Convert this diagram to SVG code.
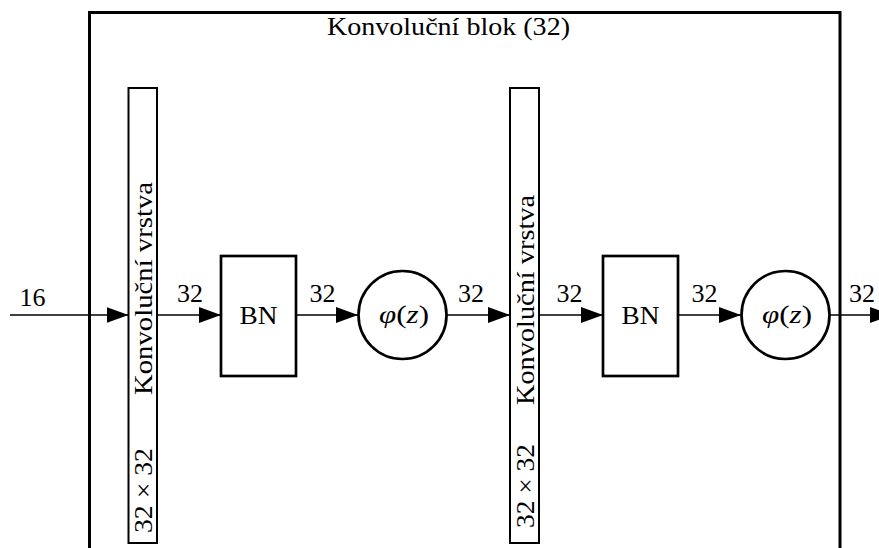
<svg xmlns="http://www.w3.org/2000/svg" width="879" height="548" viewBox="0 0 879 548">
  <style>
    text { font-family: "Liberation Serif", "DejaVu Serif", serif; font-size: 26px; fill: #000; }
    .frame { fill: none; stroke: #000; stroke-width: 3; }
    .box { fill: #fff; stroke: #000; stroke-width: 2.7; }
    .conv { fill: #fff; stroke: #000; stroke-width: 2; }
    .edge { fill: none; stroke: #000; stroke-width: 1.5; marker-end: url(#head); }
    .lbl { text-anchor: middle; }
    .it { font-style: italic; }
  </style>
  <defs>
    <marker id="head" viewBox="0 0 22 16" refX="22" refY="8" markerWidth="22" markerHeight="16" markerUnits="userSpaceOnUse" orient="auto">
      <path d="M0,0 L22,8 L0,16 Z" fill="#000"/>
    </marker>
  </defs>

  <rect x="0" y="0" width="879" height="548" fill="#fff"/>

  <!-- outer block frame -->
  <g id="block">
    <rect class="frame" x="89.5" y="12.5" width="750.5" height="560"/>
    <text class="lbl" x="448.5" y="35" textLength="243" lengthAdjust="spacingAndGlyphs">Konvoluční blok (32)</text>
  </g>

  <!-- connectors -->
  <g id="connectors">
    <path class="edge" d="M10,315 H128.5"/>
    <path class="edge" d="M157,315 H221"/>
    <path class="edge" d="M296,315 H358"/>
    <path class="edge" d="M447,315 H510"/>
    <path class="edge" d="M539,315 H603"/>
    <path class="edge" d="M678,315 H741"/>
    <path class="edge" d="M830,315 H892"/>
    <text class="lbl" x="32.5" y="306">16</text>
    <text class="lbl" x="190" y="302">32</text>
    <text class="lbl" x="322.5" y="302">32</text>
    <text class="lbl" x="471" y="302">32</text>
    <text class="lbl" x="569.5" y="302">32</text>
    <text class="lbl" x="704.5" y="302">32</text>
    <text class="lbl" x="862" y="302">32</text>
  </g>

  <!-- first convolution layer -->
  <g id="conv1">
    <rect class="conv" x="128.5" y="88" width="28.5" height="455"/>
    <text transform="translate(152,395) rotate(-90)" textLength="213" lengthAdjust="spacingAndGlyphs">Konvoluční vrstva</text>
    <text transform="translate(152,533) rotate(-90)" textLength="85" lengthAdjust="spacingAndGlyphs">32 × 32</text>
  </g>

  <g id="bn1">
    <rect class="box" x="221" y="256" width="75" height="120"/>
    <text class="lbl" x="258.5" y="324" textLength="38" lengthAdjust="spacingAndGlyphs">BN</text>
  </g>

  <g id="act1">
    <circle class="box" cx="402.5" cy="315" r="44"/>
    <text class="lbl" x="404" y="323" textLength="50" lengthAdjust="spacingAndGlyphs"><tspan class="it">φ</tspan>(<tspan class="it">z</tspan>)</text>
  </g>

  <!-- second convolution layer -->
  <g id="conv2">
    <rect class="conv" x="510" y="88" width="29" height="455"/>
    <text transform="translate(533.5,405) rotate(-90)" textLength="210" lengthAdjust="spacingAndGlyphs">Konvoluční vrstva</text>
    <text transform="translate(533.5,528) rotate(-90)" textLength="84" lengthAdjust="spacingAndGlyphs">32 × 32</text>
  </g>

  <g id="bn2">
    <rect class="box" x="603" y="256" width="75" height="120"/>
    <text class="lbl" x="640.5" y="324" textLength="38" lengthAdjust="spacingAndGlyphs">BN</text>
  </g>

  <g id="act2">
    <circle class="box" cx="785.5" cy="315" r="44"/>
    <text class="lbl" x="787" y="323" textLength="50" lengthAdjust="spacingAndGlyphs"><tspan class="it">φ</tspan>(<tspan class="it">z</tspan>)</text>
  </g>
</svg>
